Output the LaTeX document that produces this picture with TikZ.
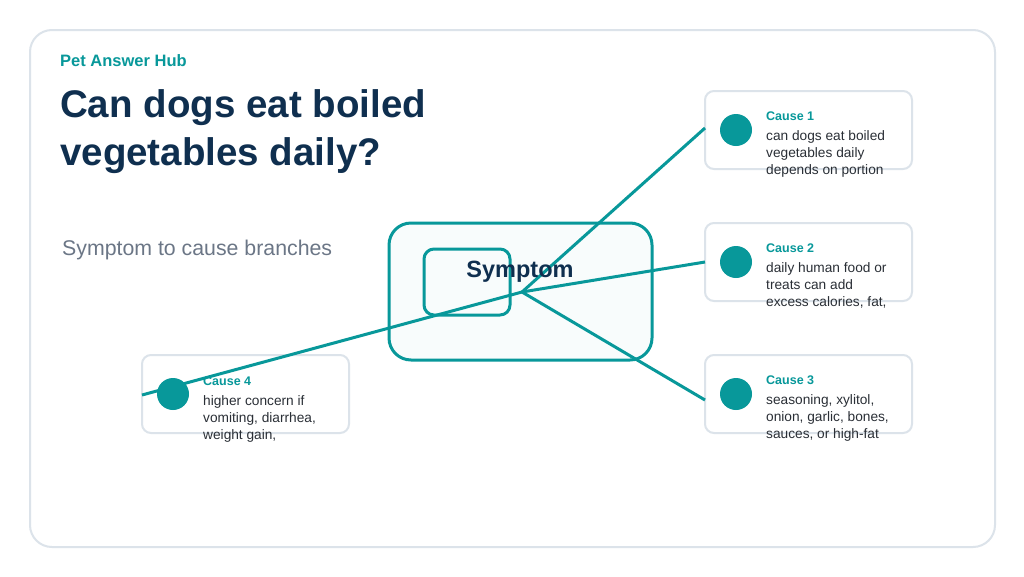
\documentclass[tikz,border=0pt]{standalone}
\usepackage{fontspec}
\setmainfont{Liberation Sans}
\definecolor{teal}{HTML}{08989A}
\definecolor{navy}{HTML}{0F2F4F}
\definecolor{bord}{HTML}{DCE3EA}
\definecolor{txt}{HTML}{2A2F36}
\definecolor{sub}{HTML}{6B7686}
\begin{document}
\begin{tikzpicture}[x=1pt,y=-1pt,
  card/.style={draw=bord,line width=2pt,fill=white,rounded corners=9pt},
  conn/.style={draw=teal,line width=3pt},
  dot/.style={circle,fill=teal,minimum size=32pt,inner sep=0pt},
  ctitle/.style={anchor=base west,text=teal,font=\bfseries\fontsize{12.5}{14}\selectfont},
  cbody/.style={anchor=north west,text=txt,align=left,font=\fontsize{13.7}{17}\selectfont,inner sep=0pt}]
\useasboundingbox (0,0) rectangle (1024,576);
\fill[white] (0,0) rectangle (1024,576);
\draw[bord,line width=2pt,rounded corners=22pt] (30,30) rectangle (995,547);
\node[anchor=base west,text=teal,font=\bfseries\fontsize{16.5}{18}\selectfont,inner sep=0pt] (brand) at (60,66) {Pet Answer Hub};
\node[anchor=north west,text=navy,align=left,font=\bfseries\fontsize{38.5}{48}\selectfont,inner sep=0pt] (title) at (60,89) {Can dogs eat boiled\\vegetables daily?};
\node[anchor=base west,text=sub,font=\fontsize{21.3}{22}\selectfont,inner sep=0pt] (subt) at (62,255) {Symptom to cause branches};
% center
\draw[teal,line width=3pt,fill=teal!3,rounded corners=22pt] (389,223) rectangle (652,360);
\draw[teal,line width=3pt,rounded corners=10pt] (424,249) rectangle (510,315);
% cards
\draw[card] (705,91) rectangle (912,169);
\draw[card] (705,223) rectangle (912,301);
\draw[card] (705,355) rectangle (912,433);
\draw[card] (142,355) rectangle (349,433);
\coordinate (hub) at (522,292);
\coordinate (e1) at (705,128);
\coordinate (e2) at (705,262);
\coordinate (e3) at (705,400);
\coordinate (e4) at (142,395);
\draw[conn] (hub) -- (e1);
\draw[conn] (hub) -- (e2);
\draw[conn] (hub) -- (e3);
\draw[conn] (hub) -- (e4);
\node[text=navy,font=\bfseries\fontsize{23.5}{26}\selectfont] (sym) at (520,272) {Symptom};
\node[dot] (d1) at (736,130) {};
\node[dot] (d2) at (736,262) {};
\node[dot] (d3) at (736,394) {};
\node[dot] (d4) at (173,394) {};
\node[ctitle,inner sep=0pt] (t1) at (766,120) {Cause 1};
\node[cbody] (b1) at (766,130) {can dogs eat boiled\\vegetables daily\\depends on portion};
\node[ctitle,inner sep=0pt] (t2) at (766,252) {Cause 2};
\node[cbody] (b2) at (766,262) {daily human food or\\treats can add\\excess calories, fat,};
\node[ctitle,inner sep=0pt] (t3) at (766,384) {Cause 3};
\node[cbody] (b3) at (766,394) {seasoning, xylitol,\\onion, garlic, bones,\\sauces, or high-fat};
\node[ctitle,inner sep=0pt] (t4) at (203,385) {Cause 4};
\node[cbody] (b4) at (203,395) {higher concern if\\vomiting, diarrhea,\\weight gain,};
\end{tikzpicture}
\end{document}
